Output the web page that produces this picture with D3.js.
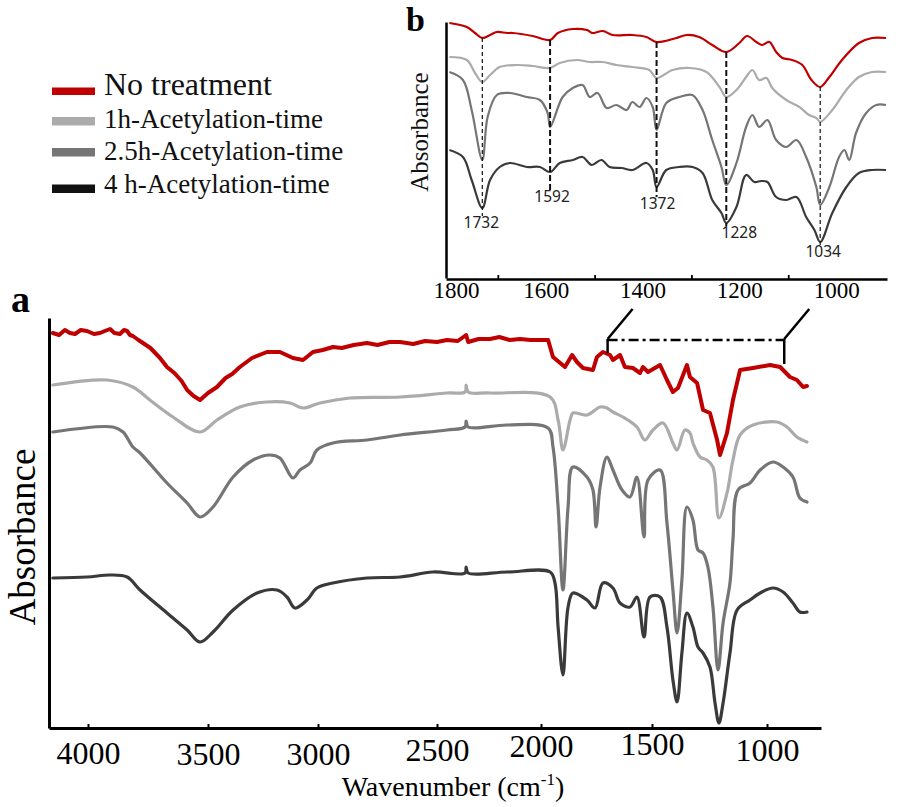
<!DOCTYPE html>
<html><head><meta charset="utf-8">
<script src="https://cdn.jsdelivr.net/npm/d3@7"></script>
<style>body{margin:0;background:#fff}svg{display:block}</style>
</head><body><svg id="c" width="898" height="807"></svg>
<script>
// ---------- DATA ----------
const seriesNames = ["No treatment", "1h-Acetylation-time", "2.5h-Acetylation-time", "4 h-Acetylation-time"];
const seriesColors = ["#c00000", "#ababab", "#757575", "#3a3a3a"];
const legendColors = ["#c00000", "#ababab", "#757575", "#111111"];
const mainTicks = [4000, 3500, 3000, 2500, 2000, 1500, 1000];
const insetLabels = [1800, 1600, 1400, 1200, 1000];
const insetMinorTicks = [1700, 1500, 1300, 1100];
const peaks = [1732, 1592, 1372, 1228, 1034];

// main panel (a): [wavenumber, absorbance (a.u.)]
const mainNoTreat = [[4146,3.95],[4120,3.93],[4096,3.98],[4075,3.95],[4054,3.94],[4030,3.98],[4004,3.97],[3975,3.94],[3950,3.95],[3930,3.97],[3908,3.99],[3890,3.95],[3867,3.94],[3850,3.98],[3837,3.97],[3825,3.93],[3813,3.92],[3790,3.88],[3771,3.85],[3740,3.80],[3700,3.70],[3671,3.61],[3640,3.55],[3610,3.47],[3587,3.38],[3560,3.32],[3533,3.28],[3500,3.35],[3459,3.41],[3420,3.50],[3390,3.54],[3355,3.61],[3300,3.70],[3232,3.76],[3173,3.76],[3114,3.70],[3068,3.68],[3023,3.76],[2980,3.78],[2937,3.81],[2900,3.80],[2850,3.83],[2794,3.85],[2750,3.83],[2700,3.86],[2655,3.86],[2600,3.84],[2550,3.87],[2500,3.86],[2452,3.88],[2400,3.87],[2360,3.93],[2350,3.86],[2300,3.89],[2245,3.89],[2200,3.91],[2150,3.88],[2101,3.89],[2050,3.88],[1968,3.88],[1946,3.71],[1892,3.61],[1860,3.73],[1838,3.66],[1811,3.60],[1766,3.58],[1748,3.71],[1721,3.76],[1689,3.73],[1676,3.68],[1644,3.73],[1622,3.61],[1586,3.60],[1554,3.55],[1541,3.61],[1518,3.56],[1465,3.63],[1435,3.48],[1409,3.36],[1387,3.40],[1348,3.63],[1335,3.51],[1304,3.45],[1278,3.18],[1248,3.15],[1217,2.88],[1204,2.73],[1174,2.95],[1148,3.28],[1117,3.58],[1061,3.60],[987,3.63],[943,3.61],[900,3.51],[870,3.48],[843,3.41],[826,3.42]];
const main1h = [[4146,3.43],[3921,3.48],[3813,3.41],[3742,3.28],[3646,3.11],[3533,2.96],[3459,3.08],[3355,3.21],[3232,3.26],[3127,3.25],[3068,3.20],[2992,3.25],[2866,3.30],[2655,3.31],[2452,3.35],[2365,3.36],[2360,3.43],[2350,3.36],[2245,3.35],[1959,3.31],[1923,3.08],[1901,2.78],[1869,3.08],[1856,3.15],[1793,3.13],[1734,3.21],[1703,3.20],[1676,3.16],[1631,3.11],[1568,3.01],[1532,2.88],[1496,2.98],[1452,3.05],[1409,2.85],[1391,2.78],[1357,2.98],[1335,2.95],[1322,2.85],[1291,2.71],[1261,2.68],[1235,2.61],[1209,2.10],[1174,2.35],[1148,2.68],[1117,2.93],[1061,3.03],[957,3.06],[913,3.01],[870,2.91],[826,2.86]];
const main25h = [[4146,2.96],[3896,3.01],[3854,2.96],[3813,2.81],[3783,2.75],[3671,2.45],[3587,2.25],[3533,2.11],[3477,2.21],[3386,2.51],[3295,2.68],[3218,2.73],[3173,2.70],[3114,2.50],[3082,2.58],[3036,2.65],[3005,2.78],[2937,2.85],[2794,2.88],[2655,2.93],[2452,2.98],[2365,3.01],[2360,3.07],[2350,3.01],[2163,3.03],[1968,3.00],[1946,2.81],[1923,2.21],[1901,1.38],[1878,2.21],[1856,2.61],[1793,2.51],[1766,2.38],[1752,2.01],[1734,2.41],[1703,2.71],[1676,2.58],[1635,2.38],[1599,2.31],[1568,2.51],[1536,1.91],[1518,2.48],[1465,2.58],[1435,2.05],[1409,1.38],[1391,0.95],[1370,1.48],[1348,2.21],[1322,2.08],[1300,1.78],[1278,1.75],[1257,1.61],[1235,1.21],[1213,0.58],[1191,1.05],[1161,1.45],[1148,1.88],[1126,2.38],[1074,2.45],[1030,2.58],[974,2.66],[930,2.61],[887,2.51],[857,2.30],[826,2.26]];
const main4h = [[4146,1.50],[4004,1.51],[3908,1.53],[3837,1.51],[3783,1.38],[3671,1.15],[3587,0.98],[3533,0.86],[3477,0.96],[3386,1.18],[3277,1.35],[3186,1.38],[3141,1.31],[3105,1.20],[3050,1.28],[3005,1.40],[2937,1.45],[2794,1.50],[2655,1.51],[2517,1.56],[2365,1.55],[2360,1.61],[2350,1.55],[2163,1.56],[1959,1.56],[1937,1.45],[1923,1.01],[1901,0.53],[1878,1.21],[1856,1.35],[1793,1.28],[1757,1.20],[1721,1.45],[1676,1.40],[1644,1.25],[1599,1.21],[1568,1.31],[1536,0.91],[1509,1.31],[1465,1.31],[1435,1.01],[1409,0.48],[1391,0.26],[1370,0.75],[1348,1.15],[1322,1.01],[1300,0.81],[1278,0.75],[1248,0.61],[1226,0.25],[1209,0.05],[1191,0.25],[1161,0.75],[1130,1.18],[1074,1.28],[1030,1.35],[974,1.40],[930,1.36],[887,1.25],[857,1.16],[826,1.16]];

// inset panel (b): [wavenumber, absorbance (a.u.)]
const insetNoTreat = [[1800,2.55],[1764,2.51],[1747,2.45],[1732,2.40],[1716,2.43],[1702,2.46],[1681,2.45],[1669,2.45],[1628,2.42],[1592,2.38],[1576,2.45],[1545,2.49],[1516,2.48],[1504,2.45],[1483,2.47],[1463,2.43],[1422,2.43],[1393,2.41],[1372,2.36],[1331,2.40],[1310,2.43],[1284,2.41],[1257,2.33],[1228,2.26],[1201,2.35],[1185,2.42],[1166,2.36],[1154,2.33],[1139,2.36],[1125,2.26],[1112,2.20],[1092,2.18],[1071,2.13],[1052,1.98],[1034,1.91],[1015,2.01],[989,2.18],[954,2.35],[927,2.40],[898,2.40]];
const inset1h = [[1800,2.21],[1764,2.18],[1747,2.05],[1732,1.96],[1716,2.03],[1696,2.11],[1661,2.13],[1628,2.12],[1592,2.10],[1572,2.15],[1537,2.18],[1510,2.16],[1483,2.16],[1455,2.13],[1422,2.11],[1387,2.08],[1372,2.00],[1339,2.08],[1304,2.10],[1269,2.06],[1242,1.91],[1228,1.81],[1207,1.88],[1187,2.01],[1174,2.08],[1160,1.98],[1145,2.00],[1133,1.90],[1104,1.78],[1077,1.71],[1057,1.63],[1042,1.60],[1034,1.56],[1009,1.68],[980,1.88],[954,2.01],[927,2.06],[898,2.06]];
const inset25h = [[1800,2.06],[1772,1.98],[1754,1.68],[1732,1.18],[1721,1.61],[1702,1.83],[1675,1.85],[1640,1.81],[1613,1.78],[1597,1.65],[1592,1.51],[1566,1.81],[1545,1.90],[1525,1.93],[1510,1.81],[1494,1.85],[1475,1.70],[1455,1.73],[1434,1.68],[1422,1.76],[1407,1.71],[1393,1.80],[1380,1.71],[1372,1.48],[1352,1.75],[1325,1.81],[1298,1.83],[1277,1.68],[1257,1.38],[1238,1.11],[1228,0.93],[1207,1.15],[1187,1.51],[1174,1.63],[1160,1.51],[1143,1.58],[1125,1.38],[1104,1.31],[1083,1.38],[1063,1.21],[1042,0.91],[1034,0.73],[1015,0.91],[995,1.21],[984,1.28],[974,1.18],[960,1.45],[939,1.65],[918,1.73],[898,1.73]];
const inset4h = [[1800,1.28],[1772,1.21],[1754,0.98],[1732,0.70],[1716,0.98],[1696,1.11],[1675,1.15],[1640,1.11],[1613,1.11],[1592,1.06],[1572,1.15],[1545,1.18],[1525,1.21],[1506,1.13],[1486,1.18],[1469,1.11],[1444,1.10],[1422,1.08],[1393,1.15],[1380,1.08],[1372,0.91],[1352,1.08],[1325,1.11],[1298,1.11],[1277,1.05],[1257,0.78],[1238,0.65],[1228,0.55],[1207,0.71],[1187,1.03],[1170,0.96],[1156,0.97],[1143,0.96],[1125,0.81],[1104,0.78],[1083,0.81],[1063,0.61],[1046,0.48],[1034,0.36],[1009,0.65],[980,0.91],[954,1.05],[927,1.08],[898,1.08]];

const mainSeries = [mainNoTreat, main1h, main25h, main4h];
const insetSeries = [insetNoTreat, inset1h, inset25h, inset4h];

// ---------- LAYOUT ----------
const svg = d3.select("#c");
const serif = "'Liberation Serif','Times New Roman',serif";

// main panel scales (hand-drawn axis in the original: piecewise linear)
const x = d3.scaleLinear()
  .domain([4162, 4000, 3500, 3000, 2500, 2000, 1500, 1000, 765])
  .range([49, 88, 208, 318, 437, 541, 652, 767, 821]);
const y = d3.scaleLinear().domain([0, 4.10]).range([728, 318]);

// inset scales
const xi = d3.scaleLinear().domain([1807, 896]).range([446, 887]);
const yi = d3.scaleLinear().domain([0, 2.56]).range([278, 22]);

// main curves
const lineMain = d3.line().x(d => x(d[0])).y(d => y(d[1])).curve(d3.curveCatmullRom.alpha(0.5));
const lineMainRough = d3.line().x(d => x(d[0])).y(d => y(d[1])).curve(d3.curveLinear);
mainSeries.forEach((s, i) => {
  svg.append("path").datum(s)
    .attr("d", i === 0 ? lineMainRough : lineMain)
    .attr("fill", "none").attr("stroke", seriesColors[i])
    .attr("stroke-width", i === 0 ? 4 : 3.2)
    .attr("stroke-linejoin", "round").attr("stroke-linecap", "round");
});

// main axes
const tickLabelY = [36, 37, 37, 33, 29, 27, 33];
const gx = svg.append("g").attr("transform", "translate(0,728)")
  .call(d3.axisBottom(x).tickValues(mainTicks).tickSizeInner(-4).tickSizeOuter(0).tickFormat(d3.format("d")));
gx.attr("font-family", null);
gx.select(".domain").attr("stroke", "#000").attr("stroke-width", 3);
gx.selectAll(".tick line").attr("stroke", "#000").attr("stroke-width", 2);
gx.selectAll(".tick text").attr("y", (d, i) => tickLabelY[i]).attr("dy", 0)
  .style("font-family", serif).style("font-size", "32px").attr("fill", "#000");
const gy = svg.append("g").attr("transform", "translate(49,0)")
  .call(d3.axisLeft(y).tickValues([]).tickSizeOuter(0));
gy.select(".domain").attr("stroke", "#000").attr("stroke-width", 3);

// axis titles
const xt = svg.append("text").attr("x", 453).attr("y", 796).attr("text-anchor", "middle")
  .style("font-family", serif).attr("font-size", 28).attr("fill", "#000");
xt.append("tspan").text("Wavenumber (cm");
xt.append("tspan").attr("font-size", 17).attr("dy", -11).text("-1");
xt.append("tspan").attr("dy", 11).text(")");
svg.append("text").attr("transform", "translate(35,537) rotate(-90)").attr("text-anchor", "middle")
  .style("font-family", serif).attr("font-size", 37).attr("fill", "#000").text("Absorbance");

// panel letters
svg.append("text").attr("x", 11).attr("y", 312).style("font-family", serif).attr("font-weight", "bold")
  .attr("font-size", 38).text("a");
svg.append("text").attr("x", 406).attr("y", 31).style("font-family", serif).attr("font-weight", "bold")
  .attr("font-size", 34).text("b");

// zoom bracket
const bracket = [1700, 925];
const by = 340;
const bx0 = x(bracket[0]), bx1 = x(bracket[1]);
svg.append("line").attr("x1", bx0).attr("x2", bx1).attr("y1", by).attr("y2", by)
  .attr("stroke", "#000").attr("stroke-width", 2.5).attr("stroke-dasharray", "10,4,3,4");
[[bx0, 353], [bx1, 364]].forEach(([bx, yb]) => {
  svg.append("line").attr("x1", bx).attr("x2", bx).attr("y1", by - 1).attr("y2", yb)
    .attr("stroke", "#000").attr("stroke-width", 2.5);
  svg.append("line").attr("x1", bx).attr("x2", bx + 25).attr("y1", by - 1).attr("y2", by - 31)
    .attr("stroke", "#000").attr("stroke-width", 2.5);
});

// legend
const legY = [91.5, 121, 152, 188.5];
const legBase = [95, 128, 160, 193];
const legSize = [32, 27, 27, 27];
seriesNames.forEach((n, i) => {
  svg.append("rect").attr("x", 52).attr("y", legY[i] - 4).attr("width", 43).attr("height", i === 0 ? 7.5 : 8.5)
    .attr("fill", legendColors[i]);
  svg.append("text").attr("x", 104).attr("y", legBase[i]).style("font-family", serif)
    .attr("font-size", legSize[i]).attr("fill", "#111").text(n);
});

// inset curves
const lineInset = d3.line().x(d => xi(d[0])).y(d => yi(d[1])).curve(d3.curveCatmullRom.alpha(0.5));
insetSeries.forEach((s, i) => {
  svg.append("path").datum(s).attr("d", lineInset)
    .attr("fill", "none").attr("stroke", seriesColors[i]).attr("stroke-width", 2.2)
    .attr("stroke-linejoin", "round");
});

// inset axes
const gxi = svg.append("g").attr("transform", "translate(0,279)")
  .call(d3.axisBottom(xi).tickValues(insetMinorTicks).tickSizeInner(-4).tickSizeOuter(0).tickFormat(""));
gxi.select(".domain").attr("stroke", "#000").attr("stroke-width", 2.5);
gxi.selectAll(".tick line").attr("stroke", "#000").attr("stroke-width", 1.8);
const gyi = svg.append("g").attr("transform", "translate(446,0)")
  .call(d3.axisLeft(yi).tickValues([]).tickSizeOuter(0));
gyi.select(".domain").attr("stroke", "#000").attr("stroke-width", 2.5);
svg.append("g").selectAll("text").data(insetLabels).join("text")
  .attr("x", (d, i) => xi(d) + (i === 0 ? 7 : 0)).attr("y", 298).attr("text-anchor", "middle")
  .style("font-family", serif).attr("font-size", 23).attr("fill", "#000").text(d => d);
svg.append("text").attr("transform", "translate(428,132) rotate(-90)").attr("text-anchor", "middle")
  .style("font-family", serif).attr("font-size", 25).attr("fill", "#111").text("Absorbance");

// peak markers
const peakLabelDrop = [20, 30, 22, 15, 15];
const peakLabelShift = [-1, 2, 1, 13, 3];
const peakThick = [false, true, true, true, false];
const interp = (s, w) => {
  for (let k = 0; k < s.length - 1; k++) {
    const a = s[k], b = s[k + 1];
    if (w <= a[0] && w >= b[0]) return a[1] + (b[1] - a[1]) * (a[0] - w) / (a[0] - b[0]);
  }
  return s[0][1];
};
peaks.forEach((p, i) => {
  const px = xi(p);
  const yTop = yi(interp(insetNoTreat, p));
  const yLab = yi(interp(inset4h, p)) + peakLabelDrop[i];
  svg.append("line").attr("x1", px).attr("x2", px).attr("y1", yTop).attr("y2", yLab - 12)
    .attr("stroke", "#111").attr("stroke-width", peakThick[i] ? 2 : 1.2)
    .attr("stroke-dasharray", peakThick[i] ? "6,3" : "4,3");
  svg.append("text").attr("x", px + peakLabelShift[i]).attr("y", yLab).attr("text-anchor", "middle")
    .style("font-family", "'Noto Sans','Open Sans',sans-serif").attr("font-size", 15.5)
    .attr("fill", "#222").text(p);
});
</script></body></html>
